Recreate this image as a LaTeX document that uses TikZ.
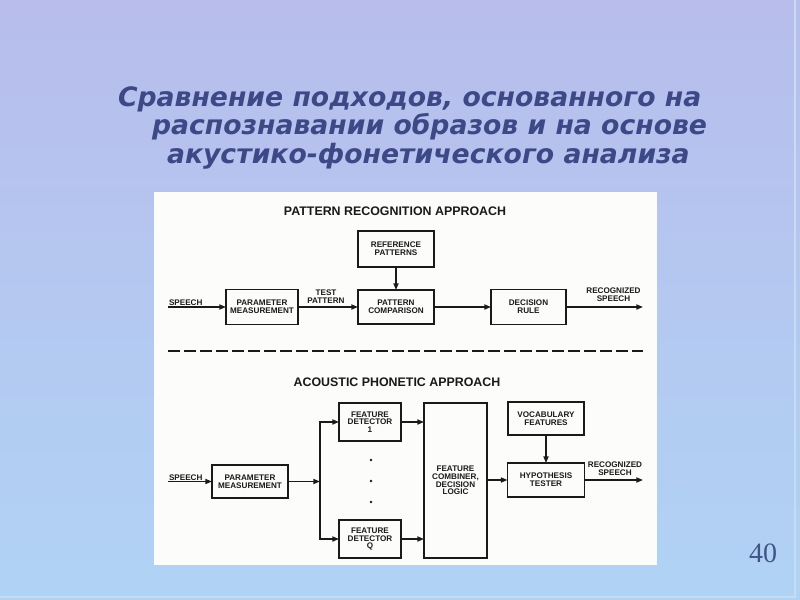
\documentclass[tikz,border=0pt]{standalone}
\usepackage{fontspec}
\setmainfont{Liberation Sans}
\newfontfamily\titlefont{DejaVu Sans}
\newfontfamily\numfont{Liberation Serif}
\usetikzlibrary{arrows.meta}
\definecolor{bgtop}{HTML}{B8BDEB}
\definecolor{bgbot}{HTML}{B0D3F5}
\definecolor{ttl}{HTML}{3D4886}
\definecolor{ink}{HTML}{1A1A1A}
\definecolor{panel}{HTML}{FCFCFA}
\definecolor{numc}{HTML}{3E5588}
\definecolor{edge}{HTML}{C6DCF3}
\begin{document}
\begin{tikzpicture}[x=0.75pt,y=-0.75pt,
 every node/.style={inner sep=0pt, outer sep=0pt},
 lbl/.style={font=\bfseries\fontsize{6.1}{5.8}\selectfont, align=center, text=ink},
 box/.style 2 args={draw=ink, line width=1pt, minimum width=#1*0.75pt, minimum height=#2*0.75pt, lbl},
 hd/.style={font=\bfseries\fontsize{9.3}{11}\selectfont, text=ink},
 conn/.style={draw=ink, line width=1.15pt},
 arr/.style={conn, -{Triangle[length=5pt,width=3.8pt]}},
 ttlline/.style={font=\titlefont\bfseries\itshape\fontsize{20}{24}\selectfont, text=ttl, anchor=base west},
 dot/.style={circle, fill=ink, minimum size=2.2pt}]
\useasboundingbox (0,0) rectangle (800,600);
% background
\shade[top color=bgtop, bottom color=bgbot] (0,0) rectangle (800,600);
\draw[edge, line width=1.5pt] (795,0) -- (795,597) -- (0,597);
% title
\node[ttlline] (l1) at (118,106) {Сравнение подходов, основанного на};
\node[ttlline] (l2) at (152,134.5) {распознавании образов и на основе};
\node[ttlline] (l3) at (167,163) {акустико-фонетического анализа};
\node[font=\numfont\fontsize{21}{24}\selectfont, text=numc] (num) at (763,553) {40};
% panel
\fill[panel] (154,192) rectangle (657,565);
% ---------- pattern recognition approach
\node[hd] (t1) at (395,211) {PATTERN RECOGNITION APPROACH};
\node[box={76}{36}] (ref) at (396,249) {REFERENCE\\PATTERNS};
\node[box={72}{35}] (pm1) at (262,307) {PARAMETER\\MEASUREMENT};
\node[box={76}{34}] (pc) at (396,307) {PATTERN\\COMPARISON};
\node[box={75}{35}] (dr) at (528.5,307) {DECISION\\RULE};
\coordinate (s1) at (168,307);
\coordinate (o1) at (643,307);
\draw[arr] (s1) -- (pm1);
\draw[arr] (pm1) -- (pc);
\draw[arr] (ref) -- (pc);
\draw[arr] (pc) -- (dr);
\draw[arr] (dr) -- (o1);
\node[lbl, anchor=base west] (sp1) at (169,305) {SPEECH};
\node[lbl] (tp) at (326,296.5) {TEST\\PATTERN};
\node[lbl] (rs1) at (613.5,294.5) {RECOGNIZED\\SPEECH};
% separator
\coordinate (da) at (168,351);
\coordinate (db) at (643,351);
\draw[conn, line width=0.9pt, dash pattern=on 9pt off 3pt] (da) -- (db);
% ---------- acoustic phonetic approach
\node[hd] (t2) at (397,382.5) {ACOUSTIC PHONETIC APPROACH};
\node[box={76}{33}] (pm2) at (250,481.5) {PARAMETER\\MEASUREMENT};
\node[box={62}{38}] (fd1) at (370,422) {FEATURE\\DETECTOR\\1};
\node[box={62}{38}] (fdq) at (370,539) {FEATURE\\DETECTOR\\Q};
\node[box={63}{155}] (fc) at (455.5,480.5) {FEATURE\\COMBINER,\\DECISION\\LOGIC};
\node[box={76}{33}] (vf) at (546,418.5) {VOCABULARY\\FEATURES};
\node[box={77}{34}] (ht) at (546,480) {HYPOTHESIS\\TESTER};
\coordinate (s2) at (168,481.5);
\coordinate (j) at (320,481.5);
\coordinate (o2) at (643,480);
\draw[arr] (s2) -- (pm2);
\draw[arr] (pm2) -- (j);
\draw[arr] (j) |- (fd1);
\draw[arr] (j) |- (fdq);
\draw[arr] (fd1) -- (fd1 -| fc.west);
\draw[arr] (fdq) -- (fdq -| fc.west);
\draw[arr] (fc.east |- ht.west) -- (ht.west);
\draw[arr] (vf) -- (ht);
\draw[arr] (ht) -- (o2);
\node[dot] (d1) at (371,460) {};
\node[dot] (d2) at (371,481) {};
\node[dot] (d3) at (371,502) {};
\node[lbl, anchor=base west] (sp2) at (169,480) {SPEECH};
\node[lbl] (rs2) at (615,469) {RECOGNIZED\\SPEECH};
\end{tikzpicture}
\end{document}
